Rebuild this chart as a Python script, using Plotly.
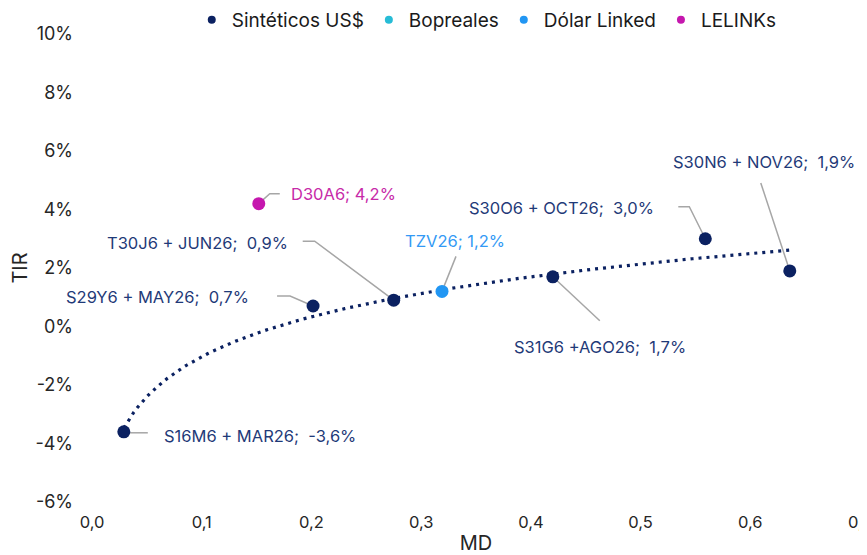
import numpy as np
import plotly.graph_objects as go

# ---------------- data ----------------
sint_names = ["S16M6 + MAR26", "S29Y6 + MAY26", "T30J6 + JUN26", "S31G6 +AGO26", "S30O6 + OCT26", "S30N6 + NOV26"]
sint_md = [0.029, 0.2015, 0.275, 0.420, 0.559, 0.636]
sint_tir = [-3.6, 0.7, 0.9, 1.7, 3.0, 1.9]

bop_names = []
bop_md = []
bop_tir = []

dl_names = ["TZV26"]
dl_md = [0.319]
dl_tir = [1.2]

lel_names = ["D30A6"]
lel_md = [0.152]
lel_tir = [4.2]

series_names = ["Sintéticos US$", "Bopreales", "Dólar Linked", "LELINKs"]
y_ticks = [-6, -4, -2, 0, 2, 4, 6, 8, 10]
y_ticktext = ["-6%", "-4%", "-2%", "0%", "2%", "4%", "6%", "8%", "10%"]
x_ticks = [0.0, 0.1, 0.2, 0.3, 0.4, 0.5, 0.6, 0.7]
x_ticktext = ["0,0", "0,1", "0,2", "0,3", "0,4", "0,5", "0,6", "0,7"]

# ---------------- styles ----------------
C_SINT = "#0B2161"
C_BOP = "#27BCD6"
C_DL = "#2196F3"
C_LEL = "#C517AE"
LBL_SINT = "#1F3A78"
LBL_DL = "#3399F5"
LBL_LEL = "#C72AA8"
LEADER = "#A6A6A6"
FONT = "Inter"

fig = go.Figure()

# log trendline fitted to the synthetic series
lx = np.log(np.array(sint_md))
b, a = np.polyfit(lx, np.array(sint_tir), 1)
xt = np.linspace(min(sint_md), max(sint_md), 200)
yt = a + b * np.log(xt)
fig.add_trace(go.Scatter(x=xt, y=yt, mode="lines", showlegend=False, hoverinfo="skip",
                         line=dict(color=C_SINT, width=3.2, dash="3px,5px")))

def pts(xs, ys, color, name):
    fig.add_trace(go.Scatter(x=xs, y=ys, mode="markers", name=name, showlegend=False,
                             marker=dict(size=13, color=color)))

pts(sint_md, sint_tir, C_SINT, series_names[0])
pts(bop_md, bop_tir, C_BOP, series_names[1])
pts(dl_md, dl_tir, C_DL, series_names[2])
pts(lel_md, lel_tir, C_LEL, series_names[3])

# legend entries
for nm, col in zip(series_names, [C_SINT, C_BOP, C_DL, C_LEL]):
    fig.add_trace(go.Scatter(x=[None], y=[None], mode="markers", name=nm,
                             marker=dict(size=8, color=col)))

def fmt(v):
    return f"{v:.1f}".replace(".", ",") + "%"

# label layout: (label offset dx, dy screen px, xanchor, leader path in screen px rel. to point)
layout_sint = [
    (38, 4, "left", [(0, 1), (24, 1)]),
    (-62, -9, "right", [(-36, -10), (-23, -10), (0, 0)]),
    (-104, -57, "right", [(-91, -59), (-79, -59), (0, 0)]),
    (47, 70, "center", [(47, 44), (0, 0)]),
    (-49, -31, "right", [(-27, -32), (-16, -32), (0, 0)]),
    (-26, -109, "center", [(-29, -88), (0, 0)]),
]
layout_dl = [(13, -50, "center", [(14, -35), (0, 0)])]
layout_lel = [(30, -10, "left", [(21, -10), (11, -10), (0, 0)])]

def labels(names, xs, ys, lays, color, sep):
    for nm, x, y, (dx, dy, anc, path) in zip(names, xs, ys, lays):
        txt = f"{nm};{sep}{fmt(y)}"
        fig.add_annotation(x=x, y=y, text=txt, showarrow=False, xanchor=anc, yanchor="middle",
                           xshift=dx, yshift=-dy,
                           font=dict(family=FONT, size=16.5, color=color))
        p = "M " + " L ".join(f"{px},{-py}" for px, py in path)
        fig.add_shape(type="path", xref="x", yref="y", xsizemode="pixel", ysizemode="pixel",
                      xanchor=x, yanchor=y, path=p, line=dict(color=LEADER, width=1.5),
                      layer="below")

labels(sint_names, sint_md, sint_tir, layout_sint, LBL_SINT, "  ")
labels(dl_names, dl_md, dl_tir, layout_dl, LBL_DL, " ")
labels(lel_names, lel_md, lel_tir, layout_lel, LBL_LEL, " ")

# the page body adds an 8px offset; size the figure so the plot area lands where the reference has it
fig.update_layout(
    width=867, height=547,
    margin=dict(l=84, r=15, t=26, b=53, autoexpand=False),
    plot_bgcolor="white", paper_bgcolor="white",
    font=dict(family=FONT, size=18, color="#262626"),
    showlegend=True,
    legend=dict(orientation="h", x=0.514, xanchor="center", y=1.03, yanchor="middle",
                font=dict(family=FONT, size=19, color="#1a1a1a"), itemwidth=30,
                tracegroupgap=0, bgcolor="rgba(0,0,0,0)"),
    xaxis=dict(range=[0, 0.7], tickmode="array", tickvals=x_ticks, ticktext=x_ticktext,
               showgrid=False, zeroline=False, showline=False, ticks="", ticklabelstandoff=8,
               ticklabeloverflow="allow",
               tickfont=dict(size=16.5, color="#262626"),
               title=dict(text="MD", font=dict(size=20, color="#262626"), standoff=6)),
    yaxis=dict(range=[-6, 10], tickmode="array", tickvals=y_ticks, ticktext=y_ticktext,
               showgrid=False, zeroline=False, showline=False, ticks="", ticklabelstandoff=18,
               tickfont=dict(size=18, color="#262626"),
               title=dict(text="TIR", font=dict(size=20, color="#262626"), standoff=6)),
)

fig.write_html("out.html")
